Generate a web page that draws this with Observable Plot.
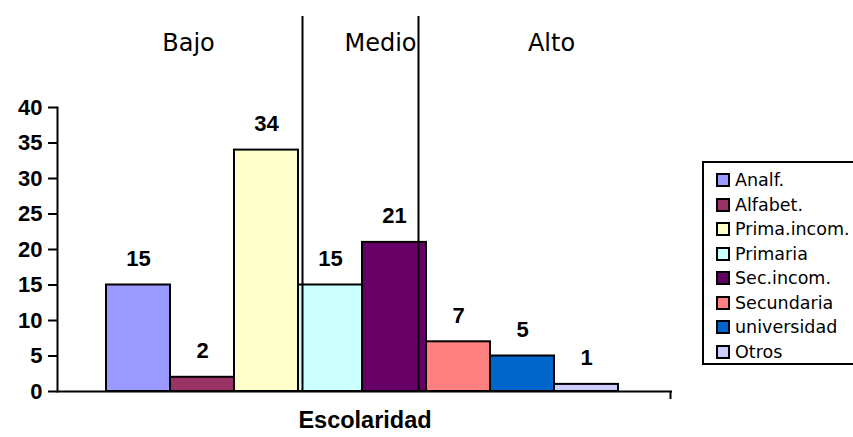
<!DOCTYPE html>
<html>
<head>
<meta charset="utf-8">
<script src="https://cdn.jsdelivr.net/npm/d3@7"></script>
<script src="https://cdn.jsdelivr.net/npm/@observablehq/plot@0.6"></script>
<style>
  html, body { margin: 0; padding: 0; background: #fff; }
  #wrap { position: relative; width: 853px; height: 437px; overflow: hidden; }
  #legend { position: absolute; left: 702px; top: 161px; width: 170px; height: 204px;
            border: 2px solid #000; background: #fff; box-sizing: border-box;
            font-family: "DejaVu Sans", sans-serif; font-size: 17.5px; color: #000; }
  .item { position: absolute; left: 12px; height: 20px; display: flex; align-items: center; white-space: nowrap; }
  .sw { width: 10px; height: 10px; border: 2px solid #000; margin-right: 5px; }
</style>
</head>
<body>
<div id="wrap"></div>
<script>
const categories = ["Analf.", "Alfabet.", "Prima.incom.", "Primaria", "Sec.incom.", "Secundaria", "universidad", "Otros"];
const values = [15, 2, 34, 15, 21, 7, 5, 1];
const colors = ["#9999FF", "#993366", "#FFFFCC", "#CCFFFF", "#660066", "#FF8080", "#0066CC", "#CCCCFF"];
const yTicks = [0, 5, 10, 15, 20, 25, 30, 35, 40];
const groupLabels = ["Bajo", "Medio", "Alto"];
const xTitle = "Escolaridad";

const data = categories.map((c, i) => ({cat: c, val: values[i]}));

const chart = Plot.plot({
  width: 853,
  height: 437,
  marginLeft: 57,
  marginRight: 181,
  marginTop: 107,
  marginBottom: 46,
  style: {fontFamily: "'Liberation Sans', Arial, sans-serif", background: "#fff", color: "#000"},
  x: {domain: categories, paddingInner: 0, paddingOuter: 0.78, align: 0.48, axis: null},
  y: {domain: [0, 40], axis: null},
  color: {domain: categories, range: colors},
  marks: [
    Plot.barY(data, {x: "cat", y: "val", fill: "cat", stroke: "#000", strokeWidth: 2}),
    Plot.text(data, {x: "cat", y: "val", text: d => String(d.val), dy: -19, lineAnchor: "bottom",
      fontSize: 22, fontWeight: "bold", fill: "#000"}),
    Plot.axisY({ticks: yTicks, tickSize: 9, tickPadding: 6, fontSize: 22, fontWeight: "bold",
      strokeWidth: 2, label: null, tickFormat: d => String(d)}),
    Plot.frame({anchor: "left", stroke: "#000", strokeWidth: 2}),
    Plot.ruleY([0], {stroke: "#000", strokeWidth: 2}),
    Plot.ruleX([categories[categories.length - 1]], {x: d => d, y1: 0, y2: 0, dx: 84, insetBottom: -8,
      stroke: "#000", strokeWidth: 2}),
    // dividers between Bajo | Medio | Alto
    Plot.ruleX([categories[3]], {x: d => d, y1: 0, y2: 52.8, dx: -28, stroke: "#000", strokeWidth: 2}),
    Plot.ruleX([categories[4]], {x: d => d, y1: 0, y2: 52.8, dx: 24, stroke: "#000", strokeWidth: 2}),
    // group labels
    Plot.text([groupLabels[0]], {x: () => categories[1], y: 48.0, text: d => d, dx: -14, lineAnchor: "bottom",
      fontSize: 24, fontFamily: "'DejaVu Sans', sans-serif", fill: "#000"}),
    Plot.text([groupLabels[1]], {x: () => categories[4], y: 48.0, text: d => d, dx: -14, lineAnchor: "bottom",
      fontSize: 24, fontFamily: "'DejaVu Sans', sans-serif", fill: "#000"}),
    Plot.text([groupLabels[2]], {x: () => categories[6], y: 48.0, text: d => d, dx: 29, lineAnchor: "bottom",
      fontSize: 24, fontFamily: "'DejaVu Sans', sans-serif", fill: "#000"}),
    Plot.text([xTitle], {frameAnchor: "bottom", text: d => d, dy: 36, fontSize: 23.5, fontWeight: "bold", fill: "#000"})
  ]
});

const wrap = document.getElementById("wrap");
wrap.appendChild(chart);

const legend = document.createElement("div");
legend.id = "legend";
categories.forEach((c, i) => {
  const it = document.createElement("div");
  it.className = "item";
  it.style.top = (7 + i * 24.5) + "px";
  const sw = document.createElement("span");
  sw.className = "sw";
  sw.style.background = colors[i];
  const tx = document.createElement("span");
  tx.textContent = c;
  it.appendChild(sw);
  it.appendChild(tx);
  legend.appendChild(it);
});
wrap.appendChild(legend);
</script>
</body>
</html>
